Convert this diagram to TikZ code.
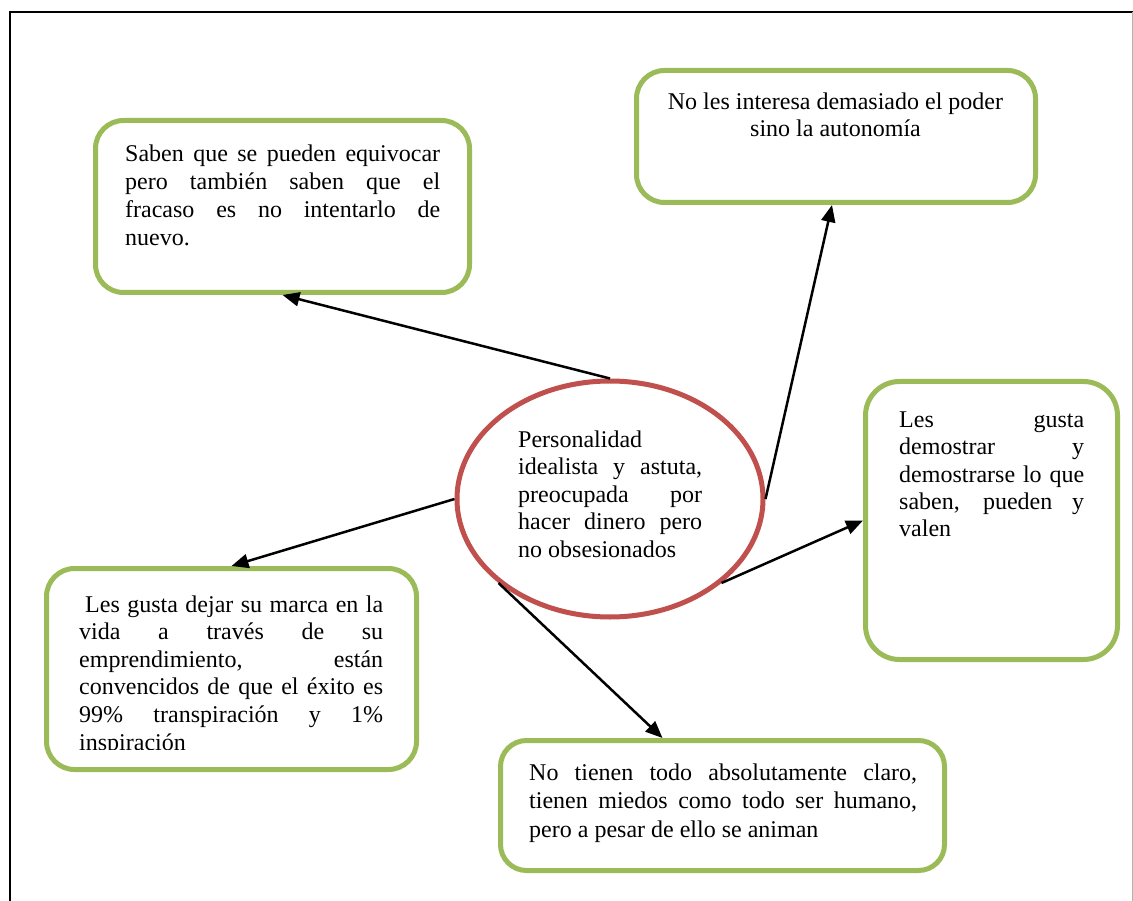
\documentclass[tikz,border=0pt]{standalone}
\usepackage{fontspec}
\setmainfont{Liberation Serif}
\usetikzlibrary{arrows.meta,shapes.geometric}
\definecolor{boxgreen}{HTML}{9BBB59}
\definecolor{ovalred}{HTML}{C0504D}

% one justified row, one ragged (last) row, one centred row
\newcommand{\jrow}[2]{\hbox to #1{#2}}
\newcommand{\lrow}[1]{\hbox{#1}}
\newcommand{\crow}[2]{\hbox to #1{\hfil#2\hfil}}
% stack of rows whose baseline is the first row
\newcommand{\txtblock}[2]{\vtop{\baselineskip=#1\lineskiplimit=-100pt\lineskip=0pt #2}}

\begin{document}
\begin{tikzpicture}[x=1pt,y=-1pt,
  card/.style={rectangle,draw=boxgreen,line width=5pt,rounded corners=28pt,inner sep=0pt,fill=white},
  oval/.style={ellipse,draw=ovalred,line width=5pt,inner sep=0pt,fill=white},
  txt/.style={inner sep=0pt,anchor=base west,font=\fontsize{24}{28}\selectfont},
  link/.style={line width=2.5pt,-{Triangle[length=17pt,width=14pt]}}]

\useasboundingbox (0,0) rectangle (1133,901);
\fill[white] (0,0) rectangle (1133,901);

% page frame
\draw[line width=2pt] (10,901) -- (10,12.5) -- (1133,12.5);
\draw[gray!60,line width=1pt] (1132.5,12.5) -- (1132.5,901);

% shapes
\node[card,minimum width=374pt,minimum height=172pt] (A) at (282.5,206.5) {};
\node[card,minimum width=399pt,minimum height=132pt] (B) at (836,136.5) {};
\node[card,minimum width=252pt,minimum height=278pt,rounded corners=34pt] (C) at (991.5,520.5) {};
\node[card,minimum width=370pt,minimum height=201pt] (D) at (231.5,669) {};
\node[card,minimum width=444pt,minimum height=130pt,rounded corners=26pt] (E) at (722.5,805.5) {};
\node[oval,minimum width=306pt,minimum height=236pt] (P) at (610,499) {};

% texts
\node[txt] (tA) at (125,162) {\txtblock{28pt}{%
  \jrow{315pt}{Saben que se pueden equivocar}
  \jrow{315pt}{pero también saben que el}
  \jrow{315pt}{fracaso es no intentarlo de}
  \lrow{nuevo.}}};

\node[txt,anchor=base] (tB) at (835.5,110) {\txtblock{27pt}{%
  \crow{400pt}{No les interesa demasiado el poder}
  \crow{400pt}{sino la autonomía}}};

\node[txt] (tC) at (899,427) {\txtblock{27.5pt}{%
  \jrow{185pt}{Les gusta}
  \jrow{185pt}{demostrar y}
  \jrow{185pt}{demostrarse lo que}
  \jrow{185pt}{saben, pueden y}
  \lrow{valen}}};

\begin{scope}
  \clip (40,560) rectangle (425,749);
  \node[txt] (tD) at (79,612) {\txtblock{27.6pt}{%
    \jrow{304pt}{\hspace{6pt}Les gusta dejar su marca en la}
    \jrow{304pt}{vida a través de su}
    \jrow{304pt}{emprendimiento, están}
    \jrow{304pt}{convencidos de que el éxito es}
    \jrow{304pt}{99\% transpiración y 1\%}
    \lrow{inspiración}}};
\end{scope}

\node[txt] (tE) at (529,780) {\txtblock{28.5pt}{%
  \jrow{388pt}{No tienen todo absolutamente claro,}
  \jrow{388pt}{tienen miedos como todo ser humano,}
  \lrow{pero a pesar de ello se animan}}};

\node[txt] (tP) at (518,447) {\txtblock{27.5pt}{%
  \lrow{Personalidad}
  \jrow{184pt}{idealista y astuta,}
  \jrow{184pt}{preocupada por}
  \jrow{184pt}{hacer dinero pero}
  \lrow{no obsesionados}}};

% connectors
\draw[link] (P.north) -- (A.south);
\draw[link] (P.east) -- ([xshift=-4pt]B.south);
\draw[link] (P.-37.5) -- (C.west);
\draw[link] (P.west) -- (D.north);
\draw[link] (P.217.5) -- ([xshift=-60pt]E.north);
\end{tikzpicture}
\end{document}
